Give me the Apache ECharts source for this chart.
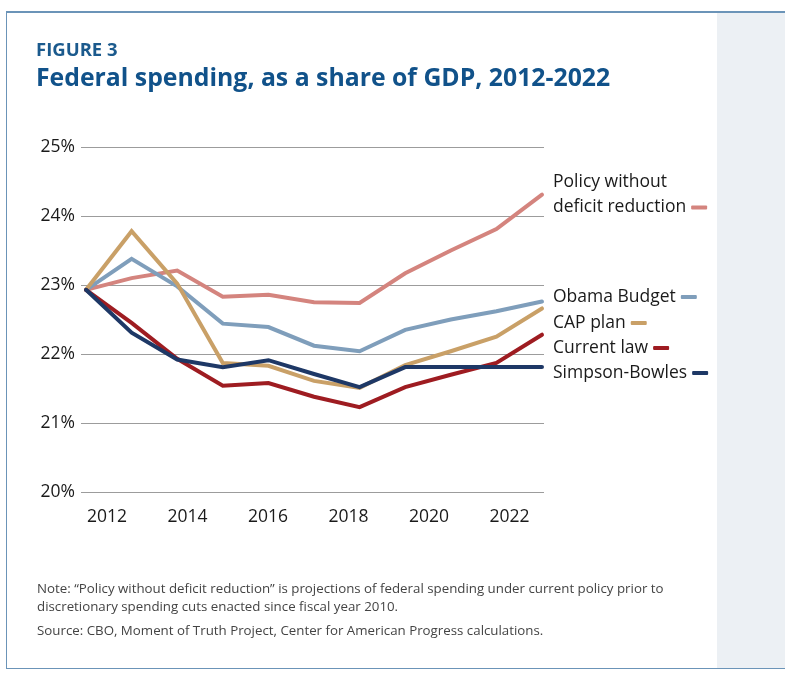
<!DOCTYPE html>
<html>
<head>
<meta charset="utf-8">
<script src="https://cdn.jsdelivr.net/npm/echarts@6/dist/echarts.min.js"></script>
<style>
  html, body { margin: 0; padding: 0; background: #fff; }
  #main { width: 785px; height: 674px; }
</style>
</head>
<body>
<div id="main"></div>
<script>
// values, share of GDP in %
var years = [2012, 2013, 2014, 2015, 2016, 2017, 2018, 2019, 2020, 2021, 2022];
var tickYears = [2012, 2014, 2016, 2018, 2020, 2022];

var policyNoCuts = [22.93, 23.10, 23.21, 22.83, 22.86, 22.75, 22.74, 23.17, 23.50, 23.81, 24.31];
var obamaBudget  = [22.93, 23.38, 22.98, 22.44, 22.39, 22.12, 22.04, 22.35, 22.50, 22.62, 22.76];
var capPlan      = [22.93, 23.78, 23.02, 21.87, 21.83, 21.61, 21.51, 21.84, 22.04, 22.25, 22.66];
var currentLaw   = [22.93, 22.45, 21.93, 21.54, 21.58, 21.38, 21.23, 21.52, 21.70, 21.87, 22.28];
var simpsonBowles = [22.93, 22.31, 21.92, 21.81, 21.91, 21.71, 21.52, 21.81, 21.81, 21.81, 21.81];

var names = ['Policy without deficit reduction', 'Obama Budget', 'CAP plan', 'Current law', 'Simpson-Bowles'];
var colors = ['#d4847e', '#7f9ebb', '#c9a067', '#9e1c21', '#1e3866'];
var values = [policyNoCuts, obamaBudget, capPlan, currentLaw, simpsonBowles];
// top of each legend entry (label column on the right)
var legendTops = [170, 287, 313, 338, 363];

var font = 'Open Sans';

function pairs(arr) {
  return arr.map(function (v, i) { return [years[i], v]; });
}

var chart = echarts.init(document.getElementById('main'));

var legends = names.map(function (n, i) {
  var lg = {
    data: [n],
    left: 553, top: legendTops[i], padding: 0,
    align: 'right', icon: 'roundRect', itemWidth: 16, itemHeight: 4,
    textStyle: { fontFamily: font, fontSize: 17.5, color: '#1a1a1a', lineHeight: 20 }
  };
  if (i === 0) {
    // two line label, dash sits after the second line
    lg.formatter = function () { return '{a|Policy without}\n{a|deficit reduction}'; };
    lg.textStyle = {
      fontFamily: font, fontSize: 17.5, color: '#1a1a1a', lineHeight: 25, padding: [0, 0, 25, 0],
      rich: { a: { fontFamily: font, fontSize: 17.5, color: '#1a1a1a', lineHeight: 25, align: 'left' } }
    };
  }
  return lg;
});

var option = {
  backgroundColor: '#fff',
  animation: false,
  textStyle: { fontFamily: font },
  title: [
    {
      text: 'FIGURE 3', left: 31, top: 36,
      textStyle: { fontFamily: font, fontSize: 18.5, fontWeight: 700, color: '#1b5a8d' }
    },
    {
      text: 'Federal spending, as a share of GDP, 2012-2022', left: 31, top: 61,
      textStyle: { fontFamily: font, fontSize: 24.8, fontWeight: 700, color: '#11528a' }
    },
    {
      text: 'Note: \u201cPolicy without deficit reduction\u201d is projections of federal spending under current policy prior to\ndiscretionary spending cuts enacted since fiscal year 2010.',
      left: 32, top: 575,
      textStyle: { fontFamily: font, fontSize: 13.3, fontWeight: 400, color: '#444', lineHeight: 18 }
    },
    {
      text: 'Source: CBO, Moment of Truth Project, Center for American Progress calculations.',
      left: 32, top: 620,
      textStyle: { fontFamily: font, fontSize: 13.3, fontWeight: 400, color: '#444' }
    }
  ],
  graphic: [
    { type: 'rect', shape: { x: 717, y: 13, width: 68, height: 655 }, style: { fill: '#ecf0f4' }, z: -10 },
    { type: 'rect', shape: { x: 6, y: 11, width: 779, height: 2 }, style: { fill: '#6b94b8' } },
    { type: 'rect', shape: { x: 6, y: 11, width: 1, height: 658 }, style: { fill: '#6b94b8' } },
    { type: 'rect', shape: { x: 6, y: 668, width: 779, height: 1 }, style: { fill: '#6b94b8' } }
  ],
  legend: legends,
  grid: { left: 81, right: 241, top: 147, bottom: 182 },
  xAxis: [
    {
      type: 'value', min: 2011.89, max: 2022.044, show: false
    },
    {
      type: 'value', position: 'bottom', min: 2011.354, max: 2022.857,
      axisLine: { show: false }, axisTick: { show: false }, splitLine: { show: false },
      axisLabel: {
        customValues: tickYears, margin: 16,
        fontFamily: font, fontSize: 17.5, color: '#1a1a1a',
        formatter: function (v) { return String(v); }
      }
    }
  ],
  yAxis: {
    type: 'value', min: 20, max: 25, interval: 1,
    axisLine: { show: false }, axisTick: { show: false },
    splitLine: { lineStyle: { color: '#9c9c9c', width: 1 } },
    axisLabel: { formatter: '{value}%', margin: 6, fontFamily: font, fontSize: 17.5, color: '#1a1a1a' }
  },
  series: values.map(function (vals, i) {
    return {
      name: names[i], type: 'line', xAxisIndex: 0,
      data: pairs(vals), showSymbol: false, silent: true,
      color: colors[i], z: 2 + i,
      lineStyle: { width: 4, color: colors[i], cap: 'round', join: 'miter' }
    };
  })
};

chart.setOption(option);
</script>
</body>
</html>
